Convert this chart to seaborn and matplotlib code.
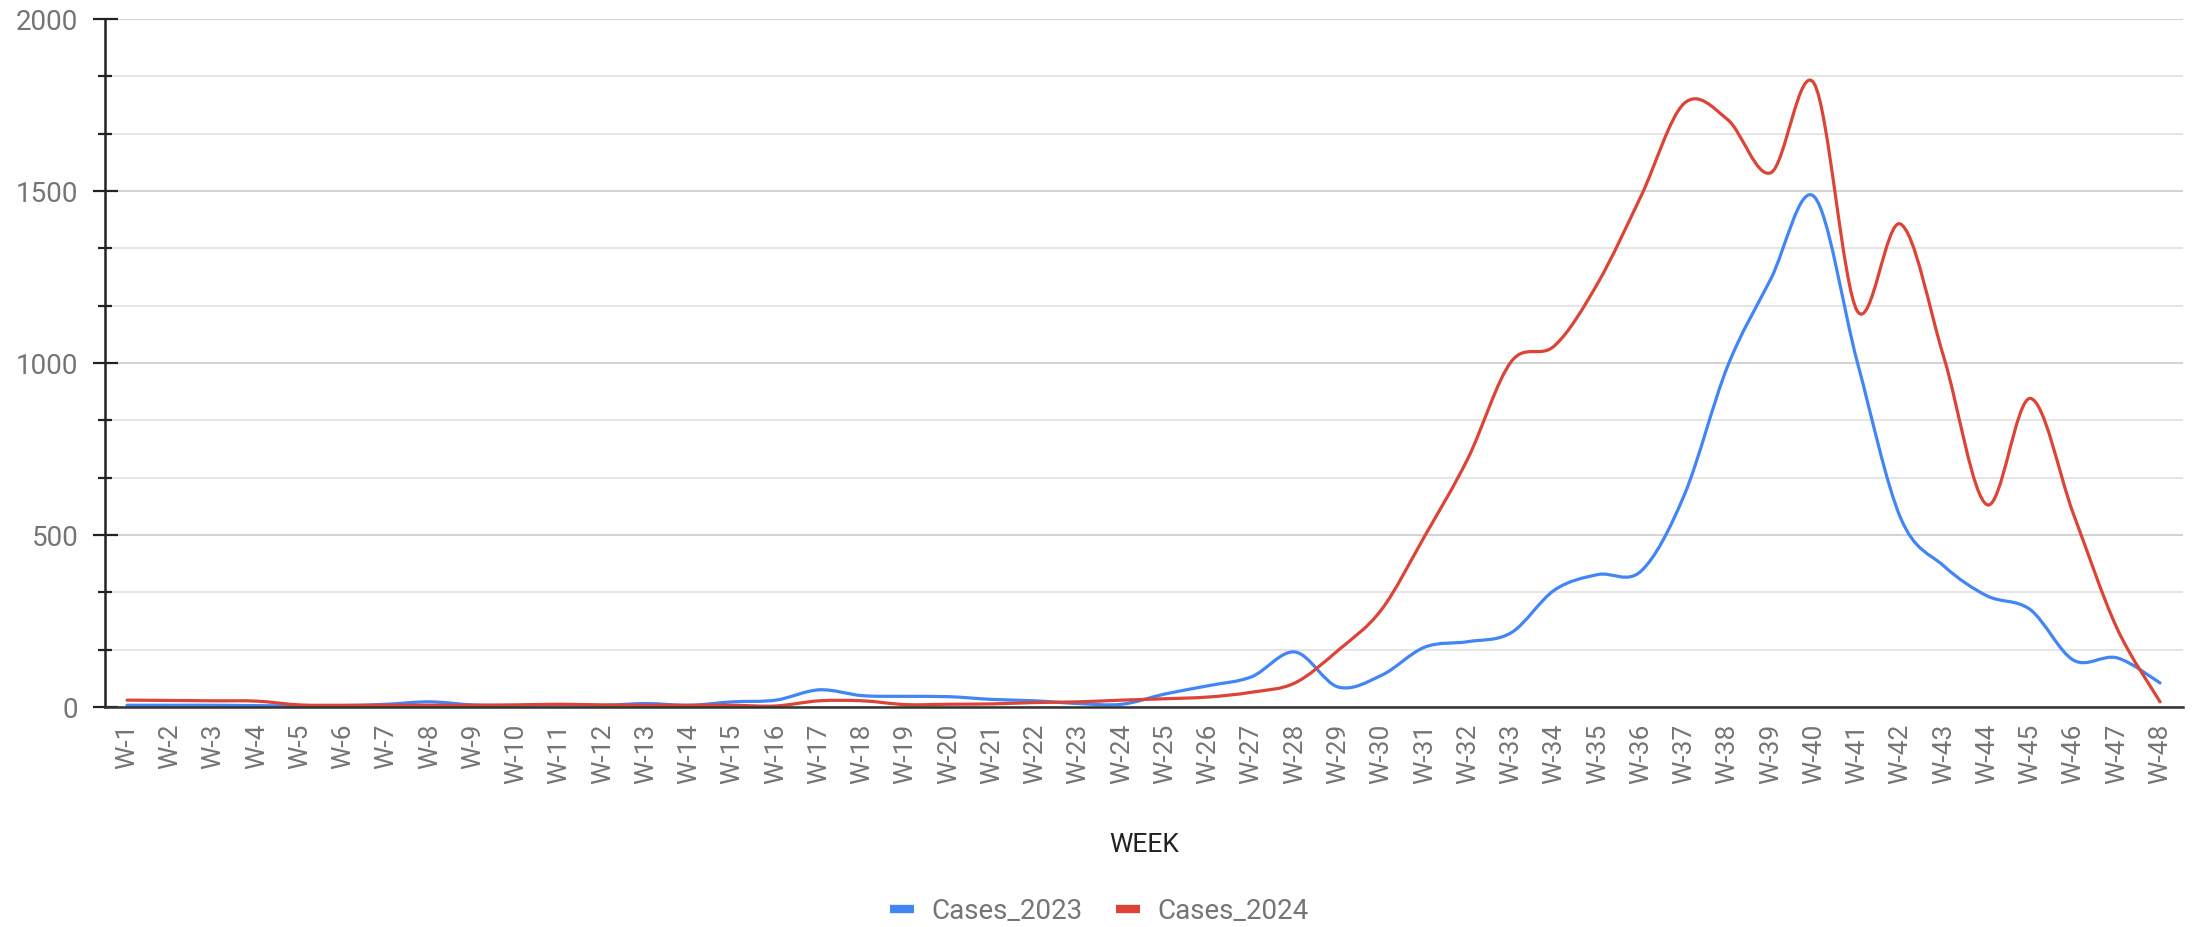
import numpy as np
import pandas as pd
import matplotlib
matplotlib.use("Agg")
import matplotlib.pyplot as plt
import seaborn as sns
from matplotlib.path import Path
from matplotlib.patches import PathPatch
from matplotlib.lines import Line2D
from matplotlib.ticker import FixedLocator

# ---------------- data ----------------
weeks = ["W-1", "W-2", "W-3", "W-4", "W-5", "W-6", "W-7", "W-8", "W-9", "W-10",
         "W-11", "W-12", "W-13", "W-14", "W-15", "W-16", "W-17", "W-18", "W-19", "W-20",
         "W-21", "W-22", "W-23", "W-24", "W-25", "W-26", "W-27", "W-28", "W-29", "W-30",
         "W-31", "W-32", "W-33", "W-34", "W-35", "W-36", "W-37", "W-38", "W-39", "W-40",
         "W-41", "W-42", "W-43", "W-44", "W-45", "W-46", "W-47", "W-48"]

cases_2023 = [5, 5, 5, 4, 3, 4, 8, 15, 6, 5,
              7, 5, 10, 5, 15, 20, 50, 33, 31, 30,
              22, 18, 10, 8, 38, 62, 88, 160, 58, 92,
              174, 190, 216, 340, 385, 395, 616, 990, 1244, 1484,
              1003, 550, 410, 323, 283, 136, 143, 70]

cases_2024 = [20, 19, 18, 17, 6, 5, 5, 5, 5, 6,
              8, 6, 5, 5, 5, 3, 18, 18, 7, 8,
              9, 13, 15, 20, 24, 29, 43, 70, 165, 283,
              497, 723, 1004, 1050, 1232, 1485, 1755, 1708, 1553, 1813,
              1151, 1404, 1017, 588, 897, 560, 230, 15]

series_names = ["Cases_2023", "Cases_2024"]
series_colors = ["#4285F4", "#DB4437"]
y_major = [0, 500, 1000, 1500, 2000]

# ---------------- style ----------------
sns.set_theme(style="white")
plt.rcParams["font.family"] = ["Roboto", "DejaVu Sans"]

W, H = 2199, 928
fig = plt.figure(figsize=(W / 100, H / 100), dpi=100)
ax = fig.add_axes([105 / W, 1 - 708 / H, (2183 - 105) / W, (708 - 20) / H])

n = len(weeks)
df = pd.DataFrame({
    "idx": list(range(n)) * 2,
    "week": weeks * 2,
    "cases": cases_2023 + cases_2024,
    "series": [series_names[0]] * n + [series_names[1]] * n,
})

palette = dict(zip(series_names, series_colors))
sns.lineplot(data=df, x="idx", y="cases", hue="series", palette=palette,
             ax=ax, legend=False, linewidth=2.3, estimator=None)


def smooth_path(xs, ys):
    P = np.column_stack([xs, ys]).astype(float)
    m = len(P)
    verts = [P[0]]
    codes = [Path.MOVETO]
    for i in range(m - 1):
        p0 = P[i - 1] if i > 0 else P[i]
        p1 = P[i]
        p2 = P[i + 1]
        p3 = P[i + 2] if i + 2 < m else P[i + 1]
        c1 = p1 + (p2 - p0) / 6.0
        c2 = p2 - (p3 - p1) / 6.0
        verts += [c1, c2, p2]
        codes += [Path.CURVE4] * 3
    return Path(verts, codes)


# replace straight segments with a smooth curve through the same points
for k, line in enumerate(list(ax.lines)):
    xs, ys = line.get_xdata(), line.get_ydata()
    patch = PathPatch(smooth_path(xs, ys), facecolor="none",
                      edgecolor=line.get_color(), lw=2.3,
                      capstyle="round", joinstyle="round", zorder=3 + k)
    ax.add_patch(patch)
    line.set_visible(False)

# ---------------- axes ----------------
ax.set_xlim(-0.51, n - 1 + 0.53)
ax.set_ylim(0, 2000)

ax.set_xticks(range(n))
ax.set_xticklabels(weeks, rotation=90)
ax.tick_params(axis="x", length=0, pad=11, labelsize=19, labelcolor="#757575")

ax.yaxis.set_major_locator(FixedLocator(y_major))
minor = [v for v in np.linspace(0, 2000, 13) if all(abs(v - m) > 1 for m in y_major)]
ax.yaxis.set_minor_locator(FixedLocator(minor))
ax.tick_params(axis="y", which="major", direction="inout", length=18, width=1.6,
               color="#222222", pad=10, labelsize=20, labelcolor="#757575", left=True)
ax.tick_params(axis="y", which="minor", direction="inout", length=9.5, width=1.6,
               color="#222222", left=True)

ax.grid(True, axis="y", which="major", color="#cfcfcf", linewidth=1.3)
ax.grid(True, axis="y", which="minor", color="#e3e3e3", linewidth=1.3)
ax.grid(False, axis="x")
ax.set_axisbelow(True)

for s in ["top", "right"]:
    ax.spines[s].set_visible(False)
ax.spines["left"].set_color("#222222")
ax.spines["left"].set_linewidth(1.8)
ax.spines["bottom"].set_color("#333333")
ax.spines["bottom"].set_linewidth(1.8)
ax.spines["left"].set_zorder(5)
ax.spines["bottom"].set_zorder(5)

ax.set_ylabel("")
ax.set_xlabel("WEEK", fontsize=19, color="#222222")
ax.xaxis.set_label_coords(0.5, -(845 - 708) / 688)
ax.xaxis.label.set_va("center")

handles = [Line2D([0], [0], color=c, lw=6, solid_capstyle="butt") for c in series_colors]
fig.legend(handles, series_names, loc="center", bbox_to_anchor=(0.5, 1 - 912 / H),
           ncol=2, frameon=False, fontsize=20, labelcolor="#757575",
           handlelength=0.85, handletextpad=0.65, columnspacing=1.2)

fig.savefig("out.png", dpi=100, facecolor="white")
